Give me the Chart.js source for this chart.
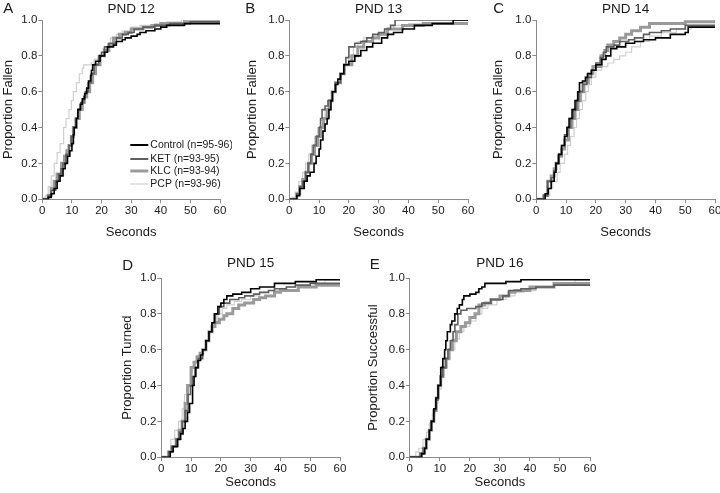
<!DOCTYPE html>
<html>
<head>
<meta charset="utf-8">
<script src="https://cdn.jsdelivr.net/npm/chart.js@4"></script>
<style>
html,body{margin:0;padding:0;background:#fff;overflow:hidden;}
#wrap{position:relative;width:720px;height:493px;}
canvas{position:absolute;}
</style>
</head>
<body>
<div id="wrap"></div>
<script>
// ---------- data ----------
const seriesNames = ['Control (n=95-96)', 'KET (n=93-95)', 'KLC (n=93-94)', 'PCP (n=93-96)'];
const panelTitles = ['PND 12', 'PND 13', 'PND 14', 'PND 15', 'PND 16'];
const panelLetters = ['A', 'B', 'C', 'D', 'E'];
const yAxisTitles = ['Proportion Fallen', 'Proportion Fallen', 'Proportion Fallen', 'Proportion Turned', 'Proportion Successful'];
const xAxisTitle = 'Seconds';
const xTicks = [0, 10, 20, 30, 40, 50, 60];
const yTicks = [0.0, 0.2, 0.4, 0.6, 0.8, 1.0];

// each: [seconds, cumulative proportion]
const pnd12_control = [[0,0],[1.5,0],[2,0.01],[3,0.03],[4,0.06],[5,0.1],[6,0.13],[7,0.17],[7.7,0.2],[8.5,0.24],[9.3,0.27],[10,0.31],[10.5,0.36],[10.8,0.4],[11.5,0.45],[12,0.5],[12.8,0.53],[13.5,0.56],[14.3,0.59],[15,0.62],[15.6,0.66],[16.3,0.69],[16.6,0.72],[17,0.75],[18,0.77],[19.5,0.8],[21,0.82],[22,0.85],[24,0.86],[25,0.88],[27,0.89],[28,0.9],[30,0.91],[32,0.92],[33,0.93],[35,0.94],[38,0.95],[40,0.96],[42,0.97],[48,0.98],[60,0.98]];
const pnd12_ket = [[0,0],[1,0],[2,0.02],[3,0.05],[4.5,0.1],[5.5,0.14],[6.3,0.17],[7,0.2],[8,0.25],[9,0.3],[9.8,0.35],[10.5,0.4],[11.2,0.45],[12,0.5],[13,0.54],[14,0.57],[14.5,0.6],[15.5,0.65],[16.5,0.7],[17.5,0.75],[19,0.8],[20,0.82],[21,0.85],[22.5,0.87],[25,0.9],[27,0.92],[29,0.93],[31,0.95],[34,0.96],[38,0.97],[43,0.98],[50,0.99],[60,0.99]];
const pnd12_klc = [[0,0],[1,0],[2,0.02],[3,0.06],[4,0.1],[5,0.14],[6.5,0.2],[7.5,0.24],[8.3,0.27],[9,0.3],[9.8,0.35],[10.5,0.4],[11.5,0.45],[12.5,0.5],[13.5,0.54],[14.2,0.57],[15,0.6],[16,0.65],[17,0.7],[18,0.75],[19.5,0.8],[21,0.83],[22.5,0.86],[24,0.9],[26,0.92],[28,0.93],[30,0.95],[34,0.96],[37,0.97],[40,0.98],[48,0.99],[60,0.99]];
const pnd12_pcp = [[0,0],[0.5,0],[1,0.02],[2,0.07],[3,0.13],[4,0.2],[5,0.26],[6,0.31],[7.2,0.4],[8,0.45],[9,0.5],[9.8,0.55],[10.5,0.6],[11.5,0.65],[12.5,0.7],[13.5,0.73],[14,0.75],[16.5,0.76],[17.5,0.78],[19,0.8],[20.5,0.84],[22,0.87],[23,0.9],[25,0.92],[27,0.94],[30,0.96],[33,0.97],[38,0.98],[42,0.99],[47,1.0],[60,1.0]];

const pnd13_control = [[0,0],[2,0],[2.5,0.02],[3.5,0.06],[5,0.1],[6,0.13],[7,0.15],[8.3,0.2],[9,0.24],[10,0.28],[10.5,0.33],[11.3,0.38],[12,0.42],[12.7,0.45],[13.3,0.5],[14,0.55],[14.5,0.6],[15.5,0.64],[16.3,0.67],[17.2,0.7],[18.3,0.75],[20,0.77],[22,0.8],[24,0.83],[26,0.85],[28,0.87],[31,0.9],[33,0.92],[35,0.93],[38,0.95],[42,0.97],[48,0.98],[55,1.0],[60,1.0]];
const pnd13_ket = [[0,0],[1.5,0],[2.5,0.03],[3.5,0.07],[4.5,0.1],[5.5,0.15],[6.3,0.2],[7.2,0.25],[8,0.3],[9,0.35],[10,0.4],[10.5,0.45],[11,0.5],[12,0.52],[13,0.55],[14.4,0.6],[15.5,0.65],[17.2,0.7],[18.3,0.75],[19,0.79],[20,0.85],[22,0.87],[24,0.88],[26,0.9],[28,0.92],[30,0.93],[32,0.95],[34,0.97],[35.5,1.0],[60,1.0]];
const pnd13_klc = [[0,0],[1.5,0],[2.5,0.03],[3.5,0.07],[4.5,0.11],[5.5,0.15],[6.5,0.2],[7.5,0.25],[8.5,0.3],[9.5,0.35],[10.5,0.4],[11.5,0.45],[12.7,0.5],[13.5,0.55],[14.4,0.6],[15.5,0.65],[17.2,0.7],[18.5,0.75],[21,0.8],[23,0.85],[25,0.88],[28,0.9],[30,0.92],[33,0.95],[38,0.97],[45,0.98],[60,0.98]];
const pnd13_pcp = [[0,0],[0.5,0],[1,0.01],[2,0.04],[3.2,0.1],[4.5,0.15],[5.5,0.2],[6.5,0.25],[7.5,0.3],[8.5,0.35],[9.5,0.4],[10.5,0.44],[12,0.5],[13,0.55],[14.4,0.6],[15.5,0.65],[17,0.7],[18.5,0.75],[20,0.8],[21.5,0.85],[23,0.88],[25,0.9],[28,0.91],[30,0.92],[32,0.95],[35,0.97],[40,0.98],[60,0.98]];

const pnd14_control = [[0,0],[2,0],[3,0.03],[4,0.06],[5,0.1],[6,0.15],[6.6,0.2],[7.5,0.25],[8.5,0.3],[9.5,0.35],[10.3,0.4],[11,0.45],[12,0.5],[13,0.55],[13.9,0.6],[14.5,0.65],[15.5,0.66],[16.5,0.68],[17.2,0.7],[18.5,0.72],[20,0.75],[22,0.78],[23.4,0.8],[25,0.84],[27,0.85],[30,0.87],[33,0.88],[36,0.89],[40,0.9],[45,0.92],[50,0.93],[51,0.96],[60,0.96]];
const pnd14_ket = [[0,0],[1.5,0],[2.5,0.02],[3.8,0.1],[5,0.12],[6,0.16],[6.6,0.2],[7.5,0.25],[8.5,0.3],[9.5,0.36],[10.5,0.4],[11.5,0.45],[12.5,0.5],[13.5,0.55],[14.3,0.6],[15.5,0.64],[17,0.68],[18.5,0.72],[20,0.76],[21.5,0.79],[22.5,0.82],[23.5,0.85],[26,0.86],[28,0.88],[31,0.89],[33,0.9],[36,0.92],[38,0.93],[42,0.94],[45,0.95],[50,0.97],[60,0.97]];
const pnd14_klc = [[0,0],[1.5,0],[2.5,0.02],[3.8,0.1],[5,0.13],[6,0.17],[6.6,0.2],[7.5,0.24],[8.5,0.28],[9.5,0.33],[10.8,0.4],[12,0.45],[13,0.5],[14,0.55],[14.8,0.6],[16,0.65],[17.5,0.7],[19,0.74],[21.7,0.8],[23,0.83],[24,0.86],[26,0.88],[28,0.9],[30,0.92],[32,0.94],[35,0.96],[38,0.98],[50,0.99],[60,0.99]];
const pnd14_pcp = [[0,0],[2,0],[3,0.02],[4.5,0.06],[5.5,0.1],[7,0.15],[8,0.2],[9.5,0.25],[10.5,0.3],[11.5,0.35],[12.7,0.4],[13.5,0.45],[14.5,0.5],[15.5,0.55],[16.6,0.6],[17.5,0.64],[18.5,0.68],[20,0.72],[22,0.74],[24,0.76],[26,0.78],[28,0.8],[30,0.82],[32,0.85],[35,0.88],[38,0.91],[42,0.93],[47,0.95],[52,0.97],[60,0.97]];

const pnd15_control = [[0,0],[2,0],[3,0.03],[4,0.06],[5.5,0.1],[6.5,0.13],[7.3,0.16],[8,0.2],[8.8,0.25],[9.5,0.3],[10.5,0.4],[11,0.45],[11.6,0.5],[12.3,0.54],[13.2,0.57],[13.9,0.6],[15,0.65],[16,0.7],[17,0.75],[17.8,0.8],[19,0.84],[20,0.86],[21,0.88],[22,0.9],[24,0.91],[27,0.92],[30,0.94],[33,0.95],[38,0.97],[45,0.98],[52,0.99],[60,0.99]];
const pnd15_ket = [[0,0],[1.5,0],[2.5,0.03],[3.5,0.06],[5,0.1],[6,0.14],[7,0.2],[8,0.26],[9,0.35],[9.8,0.4],[10.5,0.45],[11.3,0.5],[12.5,0.55],[13.9,0.6],[15,0.65],[16,0.7],[17,0.75],[18.2,0.8],[19.5,0.84],[21,0.86],[23,0.88],[26,0.89],[28,0.9],[31,0.91],[33,0.92],[36,0.93],[38,0.94],[42,0.95],[45,0.96],[50,0.97],[60,0.97]];
const pnd15_klc = [[0,0],[1.5,0],[2.5,0.03],[3.5,0.06],[5,0.1],[6,0.15],[7,0.2],[8,0.3],[8.8,0.4],[10,0.5],[11,0.53],[12,0.56],[13,0.58],[13.9,0.6],[15,0.65],[16,0.7],[17,0.73],[18,0.75],[19.5,0.77],[21,0.79],[22,0.8],[24,0.83],[26,0.85],[28,0.86],[31,0.88],[33,0.89],[35,0.9],[38,0.92],[40,0.93],[46,0.95],[52,0.96],[60,0.96]];
const pnd15_pcp = [[0,0],[1,0],[2,0.03],[3.2,0.1],[4.5,0.15],[5.8,0.2],[7,0.27],[7.8,0.35],[8.8,0.4],[9.8,0.47],[10.5,0.5],[11.5,0.54],[12.5,0.57],[13.9,0.6],[15,0.65],[16,0.7],[17.5,0.75],[19,0.8],[20.5,0.83],[22,0.85],[24.5,0.87],[27,0.88],[30,0.9],[33,0.92],[36,0.93],[42,0.95],[50,0.97],[55,0.99],[60,0.99]];

const pnd16_control = [[0,0],[3,0],[4,0.02],[5,0.05],[5.5,0.1],[6.5,0.15],[7.2,0.2],[8,0.27],[8.7,0.33],[9.4,0.4],[10.3,0.5],[11,0.55],[11.6,0.6],[12,0.65],[12.5,0.7],[13.5,0.74],[14,0.76],[15,0.8],[15.8,0.83],[16.5,0.85],[17.5,0.88],[18,0.9],[20,0.91],[22,0.92],[23,0.94],[24,0.95],[25,0.97],[30,0.97],[32,0.98],[37,0.99],[60,0.99]];
const pnd16_ket = [[0,0],[2.5,0],[3.5,0.02],[4.5,0.05],[5.5,0.1],[6.5,0.15],[7.2,0.2],[8,0.26],[8.7,0.32],[9.4,0.4],[10.2,0.45],[11,0.5],[12,0.55],[12.7,0.6],[13.5,0.65],[14.4,0.7],[15,0.74],[16,0.8],[17,0.82],[19,0.83],[22,0.84],[24,0.86],[27,0.88],[31,0.9],[33,0.93],[37,0.94],[42,0.95],[48,0.96],[60,0.96]];
const pnd16_klc = [[0,0],[2.5,0],[3.5,0.02],[4.5,0.05],[5.5,0.1],[6.5,0.15],[7.2,0.2],[8,0.26],[8.8,0.33],[9.5,0.4],[10.3,0.45],[11,0.5],[12,0.55],[13,0.6],[14.2,0.65],[15.5,0.7],[17,0.73],[18.5,0.75],[20,0.78],[21.7,0.8],[23,0.85],[25,0.86],[27,0.88],[30,0.9],[33,0.92],[35,0.93],[40,0.95],[48,0.97],[60,0.97]];
const pnd16_pcp = [[0,0],[1,0],[2,0.03],[3,0.05],[4.4,0.1],[5.5,0.14],[6.5,0.19],[7.5,0.24],[8.5,0.3],[9.4,0.38],[10.5,0.45],[11.5,0.5],[12.5,0.55],[13.5,0.6],[15,0.66],[16.5,0.7],[18,0.73],[20,0.76],[22,0.8],[24,0.83],[26,0.85],[29,0.88],[32,0.9],[35,0.92],[38,0.93],[42,0.95],[48,0.97],[55,0.99],[60,0.99]];

const panelSeries = [
  [pnd12_control, pnd12_ket, pnd12_klc, pnd12_pcp],
  [pnd13_control, pnd13_ket, pnd13_klc, pnd13_pcp],
  [pnd14_control, pnd14_ket, pnd14_klc, pnd14_pcp],
  [pnd15_control, pnd15_ket, pnd15_klc, pnd15_pcp],
  [pnd16_control, pnd16_ket, pnd16_klc, pnd16_pcp]
];

// ---------- layout / style ----------
const layout = [
  {L:42,  R:220, T:20,  B:199, titleBase:13,  letterX:3,   letterBase:13,  ytc:8.5,  xtc:232},
  {L:289, R:468, T:20,  B:199, titleBase:13,  letterX:245, letterBase:13,  ytc:252.5,xtc:232},
  {L:536, R:715, T:20,  B:199, titleBase:13,  letterX:493, letterBase:13,  ytc:498.5,xtc:232},
  {L:161, R:340, T:278, B:457, titleBase:267, letterX:122, letterBase:270, ytc:127.5,xtc:482},
  {L:410, R:590, T:278, B:457, titleBase:267, letterX:370, letterBase:269, ytc:374,  xtc:482}
];
const lineColors = ['#000000', '#5e5e5e', '#9a9a9a', '#cfcfcf'];
const lineWidths = [1.6, 1.6, 3, 1.2];
const FONT = "'Liberation Sans', Arial, sans-serif";
const AXIS = '#8a8a8a';
const TXT = '#1a1a1a';

const wrap = document.getElementById('wrap');

panelSeries.forEach((series, p) => {
  const g = layout[p];
  const yw = g.L - g.ytc + 7.8;
  const xh = g.xtc + 7.8 - g.B;
  const padTop = 20, padRight = 12;
  const cLeft = g.L - yw, cTop = g.T - padTop;
  const cw = Math.round(yw + (g.R - g.L) + padRight);
  const chh = Math.round(padTop + (g.B - g.T) + xh);
  const cv = document.createElement('canvas');
  cv.width = cw; cv.height = chh;
  cv.style.left = cLeft + 'px'; cv.style.top = cTop + 'px';
  cv.style.width = cw + 'px'; cv.style.height = chh + 'px';
  wrap.appendChild(cv);

  const decor = {
    id: 'decor' + p,
    afterDraw(chart) {
      const ctx = chart.ctx, a = chart.chartArea;
      ctx.save();
      ctx.fillStyle = TXT;
      ctx.textBaseline = 'alphabetic';
      ctx.font = '13.5px ' + FONT;
      ctx.textAlign = 'center';
      ctx.fillText(panelTitles[p], (a.left + a.right) / 2, g.titleBase - cTop);
      ctx.font = '15px ' + FONT;
      ctx.textAlign = 'left';
      ctx.fillText(panelLetters[p], g.letterX - cLeft, g.letterBase - cTop);
      if (p === 0) {
        const rows = [145, 159, 171, 184];
        ctx.font = '10.5px ' + FONT;
        ctx.textBaseline = 'middle';
        seriesNames.forEach((n, i) => {
          const y = rows[i] - cTop;
          ctx.strokeStyle = lineColors[i];
          ctx.lineWidth = lineWidths[i] + (i < 2 ? 0.4 : 0);
          ctx.beginPath();
          ctx.moveTo(130 - cLeft, y); ctx.lineTo(148 - cLeft, y);
          ctx.stroke();
          ctx.fillStyle = TXT;
          ctx.fillText(n, 150 - cLeft, y + 0.5);
        });
      }
      ctx.restore();
    }
  };

  new Chart(cv, {
    type: 'line',
    data: {
      datasets: series.map((s, i) => ({
        label: seriesNames[i],
        data: s.map(d => ({x: d[0], y: d[1]})),
        borderColor: lineColors[i],
        borderWidth: lineWidths[i],
        stepped: true,
        pointRadius: 0,
        fill: false,
        tension: 0,
        order: i
      }))
    },
    options: {
      responsive: false,
      animation: false,
      devicePixelRatio: 1,
      layout: {padding: {top: padTop, right: padRight, left: 0, bottom: 0}},
      plugins: {legend: {display: false}, title: {display: false}, tooltip: {enabled: false}},
      scales: {
        x: {
          type: 'linear', min: 0, max: 60,
          afterFit(s) { s.height = xh; },
          afterBuildTicks(s) { s.ticks = xTicks.map(v => ({value: v})); },
          ticks: {font: {family: FONT, size: 11.5}, color: TXT, padding: 1, maxRotation: 0, autoSkip: false,
                  callback: v => String(v)},
          grid: {display: true, drawOnChartArea: false, drawTicks: true, tickLength: 4, color: AXIS, lineWidth: 1},
          border: {display: true, color: AXIS, width: 1},
          title: {display: true, text: xAxisTitle, font: {family: FONT, size: 13}, color: TXT, padding: 0}
        },
        y: {
          type: 'linear', min: 0, max: 1,
          afterFit(s) { s.width = yw; },
          afterBuildTicks(s) { s.ticks = yTicks.map(v => ({value: v})); },
          ticks: {font: {family: FONT, size: 11.5}, color: TXT, padding: 1, autoSkip: false,
                  callback: v => Number(v).toFixed(1)},
          grid: {display: true, drawOnChartArea: false, drawTicks: true, tickLength: 4, color: AXIS, lineWidth: 1},
          border: {display: true, color: AXIS, width: 1},
          title: {display: true, text: yAxisTitles[p], font: {family: FONT, size: 13}, color: TXT, padding: 0}
        }
      }
    },
    plugins: [decor]
  });
});
</script>
</body>
</html>
